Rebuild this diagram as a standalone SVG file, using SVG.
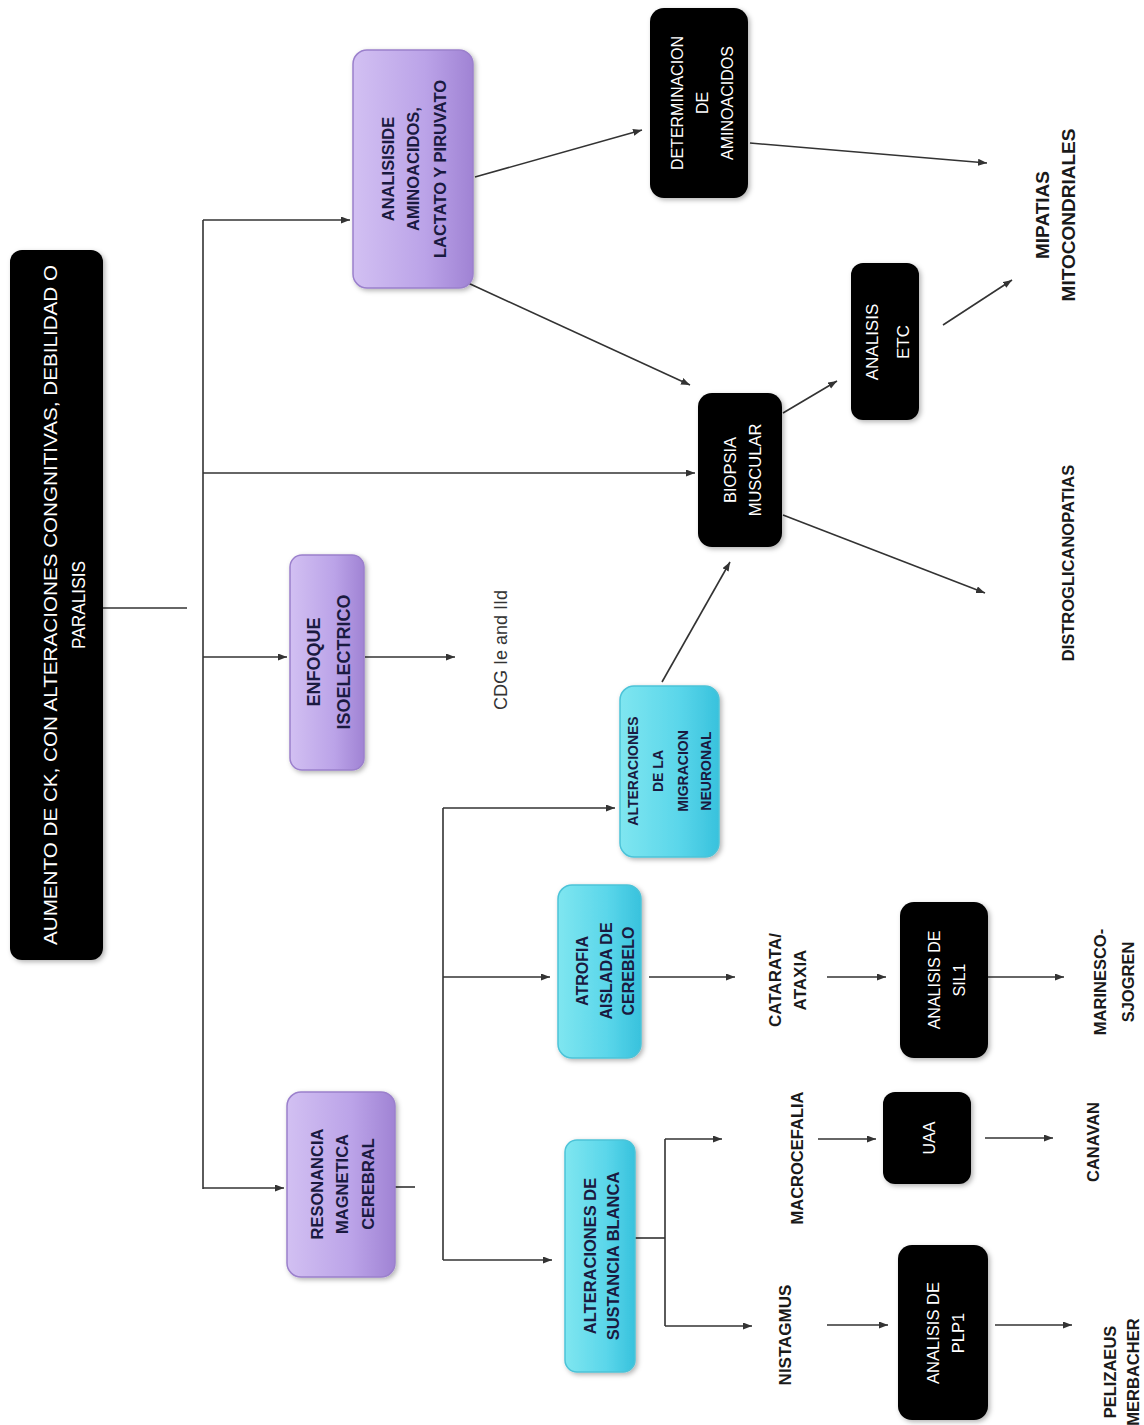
<svg xmlns="http://www.w3.org/2000/svg" width="1144" height="1425" viewBox="0 0 1144 1425">
<style>
.bg{fill:#ffffff}
.blk{fill:#000000;filter:url(#sh)}
.pur{fill:url(#gp);stroke:#9b80cc;stroke-width:1.5;filter:url(#sh)}
.cya{fill:url(#gc);stroke:#4cc3d8;stroke-width:1.5;filter:url(#sh)}
.c{fill:none;stroke:#333333;stroke-width:1.6}
.a{marker-end:url(#ah)}
text{font-family:"Liberation Sans",Arial,sans-serif;text-anchor:middle;dominant-baseline:central}
.w{fill:#ffffff;font-size:16px}
.wr{fill:#ffffff;font-size:19px}
.n{fill:#1a1a40;font-weight:bold;font-size:14px}
.n15{fill:#1a1a40;font-weight:bold;font-size:16px}
.n16{fill:#1a1a40;font-weight:bold;font-size:18px}
.k{fill:#1a1a1a;font-weight:bold;font-size:16.5px}
.k17{fill:#1a1a1a;font-weight:bold;font-size:19px}
.cdg{fill:#333333;font-size:19px}
</style>
<defs>
<linearGradient id="gp" x1="0" y1="0" x2="1" y2="0">
<stop offset="0" stop-color="#d2c0f2"/>
<stop offset="0.6" stop-color="#bba3e8"/>
<stop offset="1" stop-color="#a083d4"/>
</linearGradient>
<linearGradient id="gc" x1="0" y1="0" x2="1" y2="0">
<stop offset="0" stop-color="#7fe6f0"/>
<stop offset="0.6" stop-color="#5ad6ea"/>
<stop offset="1" stop-color="#38c2dd"/>
</linearGradient>
<filter id="sh" x="-20%" y="-20%" width="140%" height="140%">
<feDropShadow dx="2" dy="2" stdDeviation="2.5" flood-color="#000" flood-opacity="0.3"/>
</filter>
<marker id="ah" markerUnits="userSpaceOnUse" markerWidth="10" markerHeight="8" refX="9" refY="3.5" orient="auto">
<path d="M0,0 L9,3.5 L0,7 z" fill="#333333"/>
</marker>
</defs>
<rect class="bg" x="0" y="0" width="1144" height="1425"/>

<g id="connectors">
<line class="c" x1="103" y1="608" x2="187" y2="608"/>
<line class="c" x1="203" y1="220" x2="203" y2="1189"/>
<line class="c a" x1="203" y1="220" x2="350" y2="220"/>
<line class="c a" x1="203" y1="473" x2="695" y2="473"/>
<line class="c a" x1="203" y1="657" x2="287" y2="657"/>
<line class="c a" x1="203" y1="1188" x2="284" y2="1188"/>
<line class="c a" x1="365" y1="657" x2="455" y2="657"/>
<line class="c" x1="395" y1="1187" x2="415" y2="1187"/>
<line class="c" x1="443" y1="808" x2="443" y2="1260"/>
<line class="c a" x1="443" y1="808" x2="615" y2="808"/>
<line class="c a" x1="443" y1="977" x2="550" y2="977"/>
<line class="c a" x1="443" y1="1260" x2="552" y2="1260"/>
<line class="c a" x1="662" y1="682" x2="730" y2="562"/>
<line class="c" x1="635" y1="1238" x2="665" y2="1238"/>
<line class="c" x1="665" y1="1139" x2="665" y2="1326"/>
<line class="c a" x1="665" y1="1139" x2="722" y2="1139"/>
<line class="c a" x1="665" y1="1326" x2="752" y2="1326"/>
<line class="c a" x1="818" y1="1139" x2="876" y2="1139"/>
<line class="c a" x1="985" y1="1138" x2="1053" y2="1138"/>
<line class="c a" x1="827" y1="1325" x2="888" y2="1325"/>
<line class="c a" x1="995" y1="1325" x2="1072" y2="1325"/>
<line class="c a" x1="649" y1="977" x2="735" y2="977"/>
<line class="c a" x1="827" y1="977" x2="886" y2="977"/>
<line class="c a" x1="988" y1="977" x2="1064" y2="977"/>
<line class="c a" x1="475" y1="177" x2="642" y2="130"/>
<line class="c a" x1="468" y1="283" x2="690" y2="385"/>
<line class="c a" x1="750" y1="143" x2="987" y2="163"/>
<line class="c a" x1="783" y1="413" x2="837" y2="381"/>
<line class="c a" x1="943" y1="325" x2="1012" y2="280"/>
<line class="c a" x1="783" y1="515" x2="985" y2="593"/>
</g>

<g id="root">
<rect class="blk" x="10" y="250" width="93" height="710" rx="12"/>
<text class="wr" transform="translate(50,605) rotate(-90)" textLength="680" lengthAdjust="spacingAndGlyphs">AUMENTO DE CK, CON ALTERACIONES CONGNITIVAS, DEBILIDAD O</text>
<text class="wr" transform="translate(78,605) rotate(-90)" textLength="88" lengthAdjust="spacingAndGlyphs">PARALISIS</text>
</g>

<g id="analisis">
<rect class="pur" x="353" y="50" width="120" height="238" rx="14"/>
<text class="n" transform="translate(388,169) rotate(-90)" style="font-size:16.5px">ANALISISIDE</text>
<text class="n" transform="translate(413,169) rotate(-90)" style="font-size:16.5px">AMINOACIDOS,</text>
<text class="n" transform="translate(440,169) rotate(-90)" style="font-size:16.5px">LACTATO Y PIRUVATO</text>
</g>

<g id="determinacion">
<rect class="blk" x="650" y="8" width="98" height="190" rx="14"/>
<text class="w" transform="translate(677,103) rotate(-90)">DETERMINACION</text>
<text class="w" transform="translate(702,103) rotate(-90)">DE</text>
<text class="w" transform="translate(727,103) rotate(-90)">AMINOACIDOS</text>
</g>

<g id="mipatias">
<text class="k17" transform="translate(1042,215) rotate(-90)">MIPATIAS</text>
<text class="k17" transform="translate(1068,215) rotate(-90)">MITOCONDRIALES</text>
</g>

<g id="etc">
<rect class="blk" x="851" y="263" width="68" height="157" rx="12"/>
<text class="w" transform="translate(872,342) rotate(-90)" style="font-size:17px">ANALISIS</text>
<text class="w" transform="translate(903,342) rotate(-90)" style="font-size:17px">ETC</text>
</g>

<g id="biopsia">
<rect class="blk" x="698" y="393" width="84" height="154" rx="14"/>
<text class="w" transform="translate(730,470) rotate(-90)" style="font-size:16.5px">BIOPSIA</text>
<text class="w" transform="translate(755,470) rotate(-90)" style="font-size:16.5px">MUSCULAR</text>
</g>

<g id="distro">
<text class="k" transform="translate(1068,563) rotate(-90)">DISTROGLICANOPATIAS</text>
</g>

<g id="enfoque">
<rect class="pur" x="290" y="555" width="74" height="215" rx="12"/>
<text class="n16" transform="translate(314,662) rotate(-90)">ENFOQUE</text>
<text class="n16" transform="translate(344,662) rotate(-90)">ISOELECTRICO</text>
</g>

<g id="cdg">
<text class="cdg" transform="translate(500,650) rotate(-90)" textLength="120" lengthAdjust="spacingAndGlyphs">CDG Ie and IId</text>
</g>

<g id="migracion">
<rect class="cya" x="620" y="686" width="99" height="171" rx="14"/>
<text class="n" transform="translate(633,771) rotate(-90)">ALTERACIONES</text>
<text class="n" transform="translate(658,771) rotate(-90)">DE LA</text>
<text class="n" transform="translate(683,771) rotate(-90)">MIGRACION</text>
<text class="n" transform="translate(706,771) rotate(-90)">NEURONAL</text>
</g>

<g id="atrofia">
<rect class="cya" x="558" y="885" width="83" height="173" rx="14"/>
<text class="n15" transform="translate(582,971) rotate(-90)">ATROFIA</text>
<text class="n15" transform="translate(606,971) rotate(-90)">AISLADA DE</text>
<text class="n15" transform="translate(628,971) rotate(-90)">CEREBELO</text>
</g>

<g id="catarata">
<text class="k" transform="translate(775,980) rotate(-90)" style="font-size:17px">CATARATA/</text>
<text class="k" transform="translate(800,980) rotate(-90)" style="font-size:17px">ATAXIA</text>
</g>

<g id="sil1">
<rect class="blk" x="900" y="902" width="88" height="156" rx="14"/>
<text class="w" transform="translate(934,980) rotate(-90)">ANALISIS DE</text>
<text class="w" transform="translate(959,980) rotate(-90)">SIL1</text>
</g>

<g id="marinesco">
<text class="k" transform="translate(1100,982) rotate(-90)">MARINESCO-</text>
<text class="k" transform="translate(1128,982) rotate(-90)">SJOGREN</text>
</g>

<g id="resonancia">
<rect class="pur" x="287" y="1092" width="108" height="185" rx="14"/>
<text class="n15" transform="translate(317,1184) rotate(-90)" style="font-size:16.5px">RESONANCIA</text>
<text class="n15" transform="translate(342,1184) rotate(-90)" style="font-size:16.5px">MAGNETICA</text>
<text class="n15" transform="translate(368,1184) rotate(-90)" style="font-size:16.5px">CEREBRAL</text>
</g>

<g id="sustancia">
<rect class="cya" x="565" y="1140" width="70" height="232" rx="12"/>
<text class="n15" transform="translate(590,1256) rotate(-90)" style="font-size:16.5px">ALTERACIONES DE</text>
<text class="n15" transform="translate(613,1256) rotate(-90)" style="font-size:16.5px">SUSTANCIA BLANCA</text>
</g>

<g id="macrocefalia">
<text class="k" transform="translate(797,1158) rotate(-90)">MACROCEFALIA</text>
</g>

<g id="uaa">
<rect class="blk" x="883" y="1092" width="88" height="92" rx="12"/>
<text class="w" transform="translate(929,1138) rotate(-90)">UAA</text>
</g>

<g id="canavan">
<text class="k" transform="translate(1093,1142) rotate(-90)">CANAVAN</text>
</g>

<g id="nistagmus">
<text class="k" transform="translate(785,1335) rotate(-90)" style="font-size:17px">NISTAGMUS</text>
</g>

<g id="plp1">
<rect class="blk" x="898" y="1245" width="90" height="175" rx="14"/>
<text class="w" transform="translate(933,1333) rotate(-90)" style="font-size:16.5px">ANALISIS DE</text>
<text class="w" transform="translate(958,1333) rotate(-90)" style="font-size:16.5px">PLP1</text>
</g>

<g id="pelizaeus">
<text class="k" transform="translate(1110,1372) rotate(-90)">PELIZAEUS</text>
<text class="k" transform="translate(1133,1372) rotate(-90)">MERBACHER</text>
</g>
</svg>
